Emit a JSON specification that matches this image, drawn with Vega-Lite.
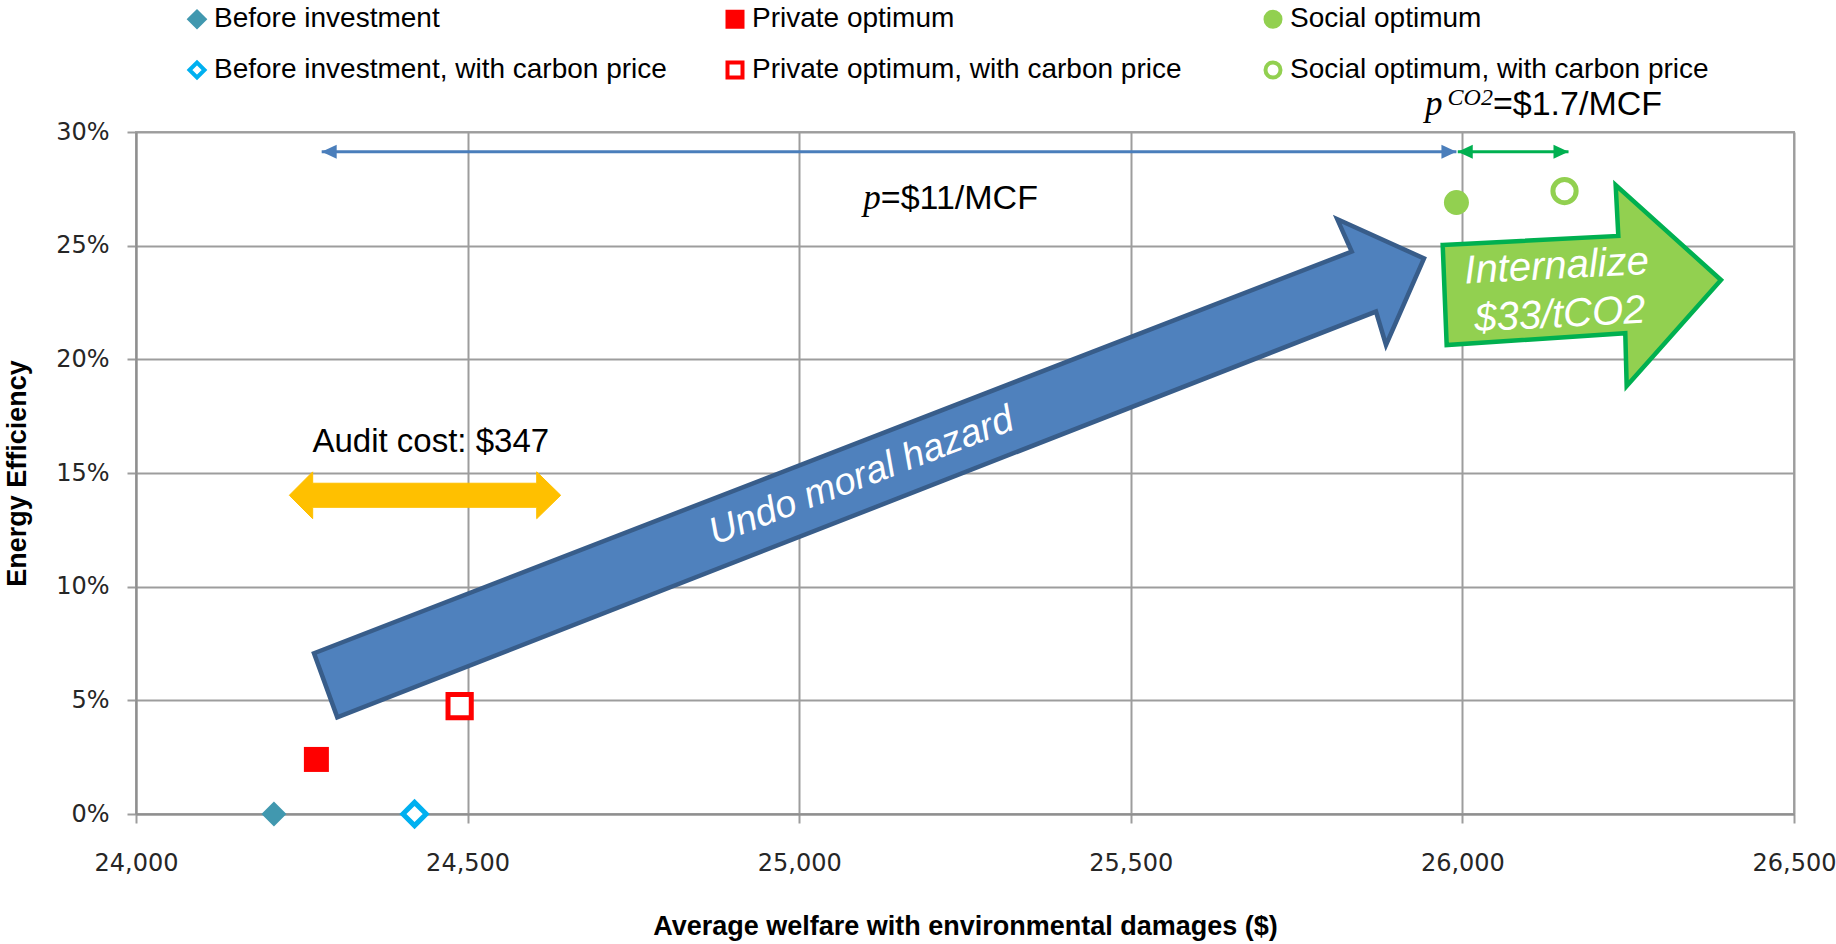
{
  "$schema": "https://vega.github.io/schema/vega-lite/v6.json",
  "width": 1658,
  "height": 682,
  "autosize": {"type": "none"},
  "padding": {"left": 136, "top": 132, "right": 42, "bottom": 130},
  "background": "#ffffff",
  "config": {
    "view": {"stroke": "#a6a6a6", "strokeWidth": 2},
    "axis": {
      "grid": true, "gridColor": "#9d9d9d", "gridWidth": 2,
      "domainColor": "#8f8f8f", "domainWidth": 2,
      "tickColor": "#9d9d9d", "tickWidth": 2, "tickSize": 9,
      "labelFont": "DejaVu Sans", "labelFontSize": 24, "labelColor": "#262626",
      "titleFont": "Liberation Sans", "titleFontSize": 27, "titleFontWeight": "bold", "titleColor": "#000000",
      "labelFlush": false, "labelOverlap": false
    },
    "legend": {
      "labelFont": "Liberation Sans", "labelFontSize": 28, "labelColor": "#000000", "labelLimit": 800,
      "symbolSize": 225, "symbolStrokeWidth": 4, "labelOffset": 3, "padding": 0,
      "columnPadding": 52, "rowPadding": 19, "gridAlign": "all"
    }
  },
  "datasets": {
    "points": [
      {"series": "Before investment", "welfare": 24208, "efficiency": 0},
      {"series": "Private optimum", "welfare": 24272, "efficiency": 0.024},
      {"series": "Social optimum", "welfare": 25991, "efficiency": 0.269},
      {"series": "Before investment, with carbon price", "welfare": 24420, "efficiency": 0},
      {"series": "Private optimum, with carbon price", "welfare": 24488, "efficiency": 0.0475},
      {"series": "Social optimum, with carbon price", "welfare": 26154, "efficiency": 0.274}
    ],
    "shapes": [
      {"id": "audit", "i": 0, "welfare": 24231.2, "efficiency": 0.1402},
      {"id": "audit", "i": 1, "welfare": 24266.4, "efficiency": 0.1505},
      {"id": "audit", "i": 2, "welfare": 24266.4, "efficiency": 0.1455},
      {"id": "audit", "i": 3, "welfare": 24604.2, "efficiency": 0.1455},
      {"id": "audit", "i": 4, "welfare": 24604.2, "efficiency": 0.1505},
      {"id": "audit", "i": 5, "welfare": 24640.4, "efficiency": 0.1402},
      {"id": "audit", "i": 6, "welfare": 24604.2, "efficiency": 0.1299},
      {"id": "audit", "i": 7, "welfare": 24604.2, "efficiency": 0.1349},
      {"id": "audit", "i": 8, "welfare": 24266.4, "efficiency": 0.1349},
      {"id": "audit", "i": 9, "welfare": 24266.4, "efficiency": 0.1299},
      {"id": "moral", "i": 0, "welfare": 24268.4, "efficiency": 0.0707},
      {"id": "moral", "i": 1, "welfare": 25833.1, "efficiency": 0.2474},
      {"id": "moral", "i": 2, "welfare": 25811.4, "efficiency": 0.2616},
      {"id": "moral", "i": 3, "welfare": 25942.1, "efficiency": 0.2444},
      {"id": "moral", "i": 4, "welfare": 25884.8, "efficiency": 0.2063},
      {"id": "moral", "i": 5, "welfare": 25869.7, "efficiency": 0.2210},
      {"id": "moral", "i": 6, "welfare": 24303.5, "efficiency": 0.0425},
      {"id": "internal", "i": 0, "welfare": 25970.3, "efficiency": 0.2503},
      {"id": "internal", "i": 1, "welfare": 26235.1, "efficiency": 0.2543},
      {"id": "internal", "i": 2, "welfare": 26231.1, "efficiency": 0.2767},
      {"id": "internal", "i": 3, "welfare": 26389.9, "efficiency": 0.2349},
      {"id": "internal", "i": 4, "welfare": 26247.7, "efficiency": 0.1883},
      {"id": "internal", "i": 5, "welfare": 26245.6, "efficiency": 0.2115},
      {"id": "internal", "i": 6, "welfare": 25976.3, "efficiency": 0.2063}
    ],
    "thin": [
      {"arrow": "p", "welfare": 24280, "welfare_end": 25991, "efficiency": 0.2913},
      {"arrow": "co2", "welfare": 25993, "welfare_end": 26160, "efficiency": 0.2913}
    ],
    "heads": [
      {"arrow": "p", "end": "left", "welfare": 24280, "efficiency": 0.2913},
      {"arrow": "p", "end": "right", "welfare": 25991, "efficiency": 0.2913},
      {"arrow": "co2", "end": "left", "welfare": 25993, "efficiency": 0.2913},
      {"arrow": "co2", "end": "right", "welfare": 26160, "efficiency": 0.2913}
    ],
    "notes": [
      {"group": "audit", "label": "Audit cost: $347", "welfare": 24444.5, "efficiency": 0.1594},
      {"group": "price", "label": "=$11/MCF", "welfare": 25123, "efficiency": 0.2660},
      {"group": "price", "label": "=$1.7/MCF", "welfare": 26046, "efficiency": 0.3075},
      {"group": "p", "label": "p", "welfare": 25123, "efficiency": 0.2660},
      {"group": "p", "label": "p", "welfare": 25970, "efficiency": 0.3075},
      {"group": "sup", "label": "CO2", "welfare": 26046, "efficiency": 0.3119},
      {"group": "moral", "label": "Undo moral hazard", "welfare": 25094, "efficiency": 0.1484},
      {"group": "internal", "label": "Internalize", "welfare": 26142, "efficiency": 0.2408},
      {"group": "internal", "label": "$33/tCO2", "welfare": 26147, "efficiency": 0.2195}
    ]
  },
  "encoding": {
    "x": {
      "field": "welfare", "type": "quantitative",
      "scale": {"domain": [24000, 26500], "nice": false, "zero": false},
      "axis": {
        "title": "Average welfare with environmental damages ($)",
        "values": [24000, 24500, 25000, 25500, 26000, 26500],
        "format": ",.0f", "labelPadding": 28, "titleBaseline": "alphabetic", "titleY": 120
      }
    },
    "y": {
      "field": "efficiency", "type": "quantitative",
      "scale": {"domain": [0, 0.3], "nice": false, "zero": false},
      "axis": {
        "title": "Energy Efficiency",
        "values": [0, 0.05, 0.1, 0.15, 0.2, 0.25, 0.3],
        "format": ".0%", "labelPadding": 18,
        "titleX": -111, "titleY": 341, "titleBaseline": "alphabetic", "titleAngle": -90, "titleAlign": "center"
      }
    }
  },
  "layer": [
    {
      "data": {"name": "shapes"},
      "transform": [{"filter": "datum.id === 'audit'"}],
      "mark": {"type": "line", "interpolate": "linear-closed", "fill": "#ffc000", "stroke": "#ffc000", "strokeWidth": 1},
      "encoding": {"order": {"field": "i", "type": "quantitative"}}
    },
    {
      "data": {"name": "shapes"},
      "transform": [{"filter": "datum.id === 'moral'"}],
      "mark": {"type": "line", "interpolate": "linear-closed", "fill": "#4f81bd", "stroke": "#385d8a", "strokeWidth": 4.5, "strokeJoin": "miter", "strokeMiterLimit": 10},
      "encoding": {"order": {"field": "i", "type": "quantitative"}}
    },
    {
      "data": {"name": "thin"},
      "transform": [{"filter": "datum.arrow === 'p'"}],
      "mark": {"type": "rule", "color": "#4a7ebb", "strokeWidth": 3},
      "encoding": {"x2": {"field": "welfare_end"}}
    },
    {
      "data": {"name": "thin"},
      "transform": [{"filter": "datum.arrow === 'co2'"}],
      "mark": {"type": "rule", "color": "#00b050", "strokeWidth": 3},
      "encoding": {"x2": {"field": "welfare_end"}}
    },
    {
      "data": {"name": "heads"},
      "transform": [{"filter": "datum.arrow === 'p' && datum.end === 'left'"}],
      "mark": {"type": "point", "shape": "M0,0L2,-0.93L2,0.93Z", "size": 225, "filled": true, "color": "#4a7ebb", "strokeWidth": 0, "opacity": 1}
    },
    {
      "data": {"name": "heads"},
      "transform": [{"filter": "datum.arrow === 'p' && datum.end === 'right'"}],
      "mark": {"type": "point", "shape": "M0,0L-2,-0.93L-2,0.93Z", "size": 225, "filled": true, "color": "#4a7ebb", "strokeWidth": 0, "opacity": 1}
    },
    {
      "data": {"name": "heads"},
      "transform": [{"filter": "datum.arrow === 'co2' && datum.end === 'left'"}],
      "mark": {"type": "point", "shape": "M0,0L2,-0.93L2,0.93Z", "size": 225, "filled": true, "color": "#00b050", "strokeWidth": 0, "opacity": 1}
    },
    {
      "data": {"name": "heads"},
      "transform": [{"filter": "datum.arrow === 'co2' && datum.end === 'right'"}],
      "mark": {"type": "point", "shape": "M0,0L-2,-0.93L-2,0.93Z", "size": 225, "filled": true, "color": "#00b050", "strokeWidth": 0, "opacity": 1}
    },
    {
      "data": {"name": "notes"},
      "transform": [{"filter": "datum.group === 'audit'"}],
      "mark": {"type": "text", "font": "Liberation Sans", "fontSize": 33, "color": "#000000", "align": "center", "baseline": "alphabetic"},
      "encoding": {"text": {"field": "label"}}
    },
    {
      "data": {"name": "notes"},
      "transform": [{"filter": "datum.group === 'price'"}],
      "mark": {"type": "text", "font": "Liberation Sans", "fontSize": 34, "color": "#000000", "align": "left", "baseline": "alphabetic"},
      "encoding": {"text": {"field": "label"}}
    },
    {
      "data": {"name": "notes"},
      "transform": [{"filter": "datum.group === 'p'"}],
      "mark": {"type": "text", "font": "Liberation Serif", "fontStyle": "italic", "fontSize": 35, "color": "#000000", "align": "right", "baseline": "alphabetic"},
      "encoding": {"text": {"field": "label"}}
    },
    {
      "data": {"name": "notes"},
      "transform": [{"filter": "datum.group === 'sup'"}],
      "mark": {"type": "text", "font": "Liberation Serif", "fontStyle": "italic", "fontSize": 24, "color": "#000000", "align": "right", "baseline": "alphabetic"},
      "encoding": {"text": {"field": "label"}}
    },
    {
      "data": {"name": "notes"},
      "transform": [{"filter": "datum.group === 'moral'"}],
      "mark": {"type": "text", "font": "Liberation Sans", "fontStyle": "italic", "fontSize": 38, "color": "#ffffff", "align": "center", "baseline": "middle", "angle": -21.1},
      "encoding": {"text": {"field": "label"}}
    },
    {
      "data": {"name": "shapes"},
      "transform": [{"filter": "datum.id === 'internal'"}],
      "mark": {"type": "line", "interpolate": "linear-closed", "fill": "#92d050", "stroke": "#00b050", "strokeWidth": 4.5, "strokeJoin": "miter", "strokeMiterLimit": 10},
      "encoding": {"order": {"field": "i", "type": "quantitative"}}
    },
    {
      "data": {"name": "notes"},
      "transform": [{"filter": "datum.group === 'internal'"}],
      "mark": {"type": "text", "font": "Liberation Sans", "fontStyle": "italic", "fontSize": 40, "color": "#ffffff", "align": "center", "baseline": "middle", "angle": -3},
      "encoding": {"text": {"field": "label"}}
    },
    {
      "data": {"name": "points"},
      "transform": [{"filter": "indexof(datum.series, 'carbon') >= 0"}],
      "mark": {"type": "point", "filled": true, "strokeWidth": 5, "size": 540, "opacity": 1},
      "encoding": {
        "shape": {
          "field": "series", "type": "nominal",
          "scale": {
            "domain": ["Before investment", "Private optimum", "Social optimum", "Before investment, with carbon price", "Private optimum, with carbon price", "Social optimum, with carbon price"],
            "range": ["diamond", "square", "circle", "diamond", "square", "circle"]
          },
          "legend": {"title": null, "orient": "none", "legendX": 47, "legendY": -127, "columns": 3, "direction": "horizontal"}
        },
        "fill": {
          "field": "series", "type": "nominal",
          "scale": {
            "domain": ["Before investment", "Private optimum", "Social optimum", "Before investment, with carbon price", "Private optimum, with carbon price", "Social optimum, with carbon price"],
            "range": ["#4198af", "#ff0000", "#92d050", "#ffffff", "#ffffff", "#ffffff"]
          },
          "legend": {"title": null, "orient": "none", "legendX": 47, "legendY": -127, "columns": 3, "direction": "horizontal"}
        },
        "stroke": {
          "field": "series", "type": "nominal",
          "scale": {
            "domain": ["Before investment", "Private optimum", "Social optimum", "Before investment, with carbon price", "Private optimum, with carbon price", "Social optimum, with carbon price"],
            "range": ["#4198af", "#ff0000", "#92d050", "#00b0f0", "#ff0000", "#92d050"]
          },
          "legend": {"title": null, "orient": "none", "legendX": 47, "legendY": -127, "columns": 3, "direction": "horizontal"}
        }
      }
    },
    {
      "data": {"name": "points"},
      "transform": [{"filter": "indexof(datum.series, 'carbon') < 0"}],
      "mark": {"type": "point", "filled": true, "strokeWidth": 0, "size": 625, "opacity": 1},
      "encoding": {
        "shape": {
          "field": "series", "type": "nominal",
          "scale": {
            "domain": ["Before investment", "Private optimum", "Social optimum", "Before investment, with carbon price", "Private optimum, with carbon price", "Social optimum, with carbon price"],
            "range": ["diamond", "square", "circle", "diamond", "square", "circle"]
          },
          "legend": {"title": null, "orient": "none", "legendX": 47, "legendY": -127, "columns": 3, "direction": "horizontal"}
        },
        "fill": {
          "field": "series", "type": "nominal",
          "scale": {
            "domain": ["Before investment", "Private optimum", "Social optimum", "Before investment, with carbon price", "Private optimum, with carbon price", "Social optimum, with carbon price"],
            "range": ["#4198af", "#ff0000", "#92d050", "#ffffff", "#ffffff", "#ffffff"]
          },
          "legend": {"title": null, "orient": "none", "legendX": 47, "legendY": -127, "columns": 3, "direction": "horizontal"}
        },
        "stroke": {
          "field": "series", "type": "nominal",
          "scale": {
            "domain": ["Before investment", "Private optimum", "Social optimum", "Before investment, with carbon price", "Private optimum, with carbon price", "Social optimum, with carbon price"],
            "range": ["#4198af", "#ff0000", "#92d050", "#00b0f0", "#ff0000", "#92d050"]
          },
          "legend": {"title": null, "orient": "none", "legendX": 47, "legendY": -127, "columns": 3, "direction": "horizontal"}
        }
      }
    }
  ]
}
